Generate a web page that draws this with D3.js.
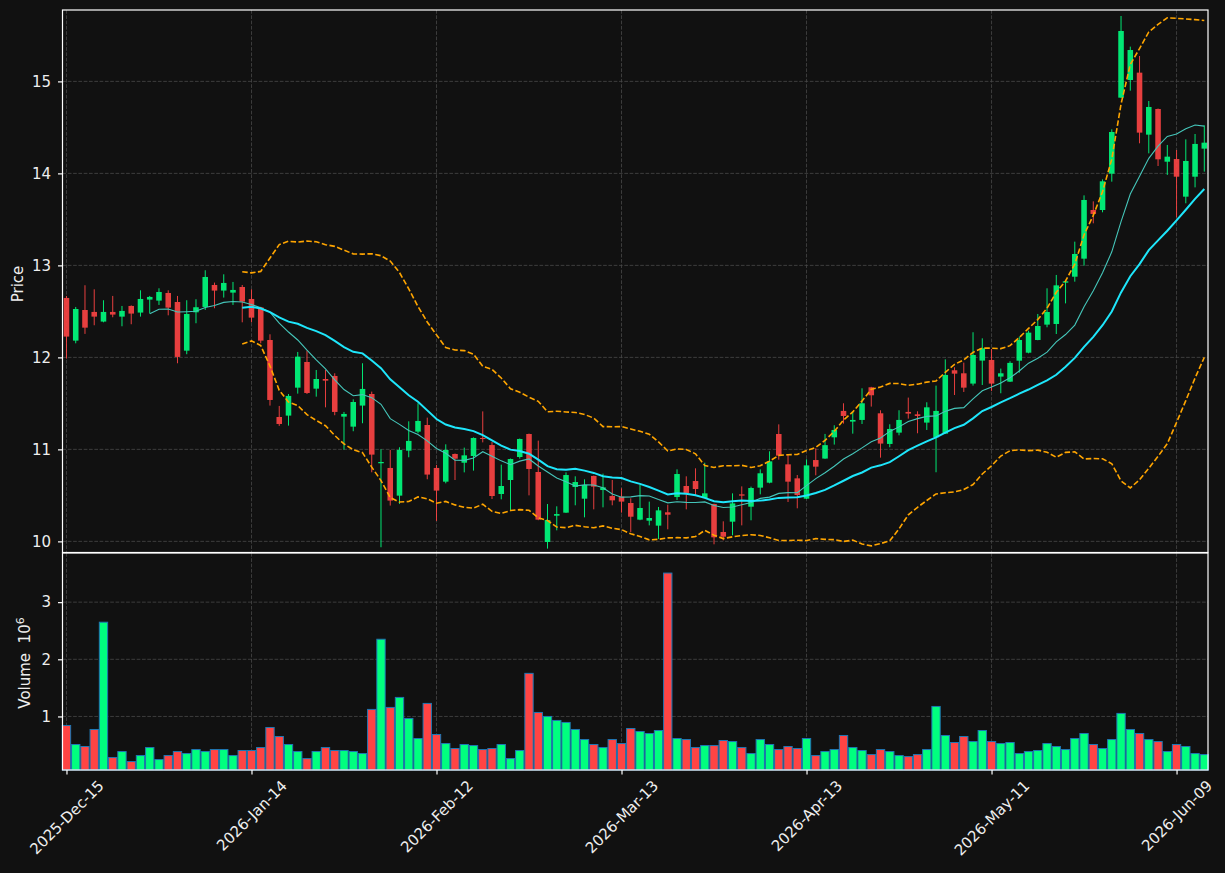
<!DOCTYPE html>
<html><head><meta charset="utf-8">
<script src="https://cdn.jsdelivr.net/npm/d3@7"></script>
<style>
body{margin:0;background:#111111;}
svg{display:block;font-family:"DejaVu Sans",sans-serif;}
</style></head><body>
<svg id="chart" width="1225" height="873"></svg>
<script>
const opens = [12.646,12.182,12.515,12.494,12.389,12.494,12.443,12.559,12.487,12.628,
12.617,12.700,12.602,12.073,12.490,12.548,12.787,12.726,12.704,12.765,
12.635,12.544,12.189,11.352,11.367,11.671,11.950,11.660,11.765,11.798,
11.356,11.247,11.476,11.602,10.849,10.798,10.497,10.986,11.193,11.265,
10.798,10.649,10.950,10.855,10.928,11.124,11.047,10.515,10.667,10.917,
11.167,10.754,9.993,10.279,10.312,10.591,10.464,10.711,10.558,10.493,
10.486,10.417,10.236,10.225,10.171,10.316,10.482,10.602,10.656,10.471,
10.406,10.102,10.214,10.511,10.377,10.584,10.638,11.167,10.837,10.685,
10.464,10.884,10.900,11.131,11.418,11.302,11.320,11.675,11.392,11.059,
11.182,11.407,11.381,11.291,11.131,11.171,11.860,11.827,11.715,11.965,
11.972,11.791,11.736,11.964,12.051,12.189,12.356,12.363,12.812,12.877,
13.073,13.602,13.602,13.997,14.823,15.015,15.095,14.421,14.700,14.127,
14.156,13.747,13.964,14.269];
const highs = [12.668,12.548,12.784,12.740,12.621,12.668,12.559,12.565,12.729,12.668,
12.751,12.729,12.668,12.621,12.632,12.947,12.813,12.903,12.820,12.787,
12.740,12.550,12.251,11.472,11.602,12.059,12.073,11.863,11.863,11.827,
11.407,11.544,11.936,11.628,11.001,10.994,11.023,11.305,11.501,11.345,
10.831,11.055,10.955,11.019,11.130,11.413,11.080,10.834,10.900,11.118,
11.172,11.095,10.406,10.381,10.750,10.707,10.674,10.715,10.736,10.667,
10.577,10.468,10.616,10.432,10.374,10.399,10.783,10.707,10.794,10.855,
10.410,10.218,10.522,10.598,10.595,10.783,10.979,11.272,10.942,10.721,
10.892,11.011,11.168,11.262,11.501,11.410,11.664,11.680,11.425,11.273,
11.425,11.563,11.414,11.512,11.693,11.979,11.892,11.943,12.273,12.207,
12.091,11.878,11.958,12.225,12.290,12.472,12.751,12.896,12.830,13.258,
13.761,13.696,13.935,14.479,15.711,15.378,15.276,14.787,14.705,14.309,
14.254,14.370,14.428,14.522];
const lows = [11.987,12.153,12.255,12.349,12.381,12.436,12.338,12.360,12.443,12.479,
12.570,12.457,11.936,12.034,12.371,12.516,12.534,12.650,12.570,12.381,
12.381,12.153,11.476,11.255,11.258,11.606,11.602,11.573,11.457,11.371,
10.997,11.197,11.284,10.751,9.936,10.389,10.407,10.914,11.175,10.675,
10.222,10.631,10.667,10.750,10.769,11.076,10.460,10.457,10.330,10.899,
10.500,10.230,9.921,10.120,10.310,10.392,10.261,10.348,10.370,10.392,
10.312,10.102,10.230,10.174,10.026,10.131,10.450,10.348,10.504,10.468,
9.968,10.011,10.066,10.174,10.229,10.511,10.631,10.888,10.428,10.359,
10.460,10.718,10.897,11.052,11.280,11.171,11.276,11.465,10.910,11.023,
11.153,11.334,11.175,11.211,10.751,11.168,11.591,11.624,11.693,11.700,
11.635,11.610,11.733,11.834,12.044,12.186,12.327,12.254,12.587,12.823,
12.997,13.457,13.577,13.910,14.820,14.899,14.327,14.218,14.080,13.983,
13.522,13.675,13.848,14.019];
const closes = [12.226,12.526,12.323,12.443,12.494,12.465,12.505,12.476,12.635,12.657,
12.711,12.541,12.005,12.472,12.545,12.874,12.726,12.809,12.733,12.606,
12.432,12.182,11.537,11.276,11.581,12.008,11.613,11.765,11.747,11.407,
11.385,11.515,11.657,10.943,10.863,10.443,10.994,11.092,11.309,10.726,
10.552,10.994,10.899,10.935,11.124,11.116,10.493,10.602,10.895,11.113,
10.787,10.236,10.232,10.297,10.721,10.645,10.613,10.595,10.587,10.446,
10.432,10.268,10.363,10.254,10.337,10.290,10.732,10.526,10.569,10.522,
10.044,10.051,10.413,10.497,10.580,10.740,10.870,10.932,10.649,10.504,
10.826,10.812,11.046,11.211,11.363,11.320,11.501,11.588,11.063,11.222,
11.320,11.389,11.363,11.457,11.418,11.809,11.823,11.671,12.026,12.099,
11.715,11.827,11.940,12.189,12.269,12.341,12.493,12.783,12.827,13.124,
13.711,13.559,13.914,14.450,15.548,15.341,14.443,14.722,14.153,14.182,
13.964,14.135,14.320,14.334];
const volumes = [0.842,0.509,0.474,0.772,2.649,0.281,0.386,0.211,0.316,0.456,
0.246,0.316,0.386,0.351,0.421,0.386,0.421,0.421,0.316,0.404,
0.404,0.456,0.807,0.649,0.509,0.386,0.263,0.386,0.456,0.404,
0.404,0.386,0.351,1.123,2.351,1.158,1.333,0.965,0.614,1.228,
0.684,0.526,0.439,0.509,0.491,0.421,0.439,0.509,0.263,0.404,
1.754,1.070,1.000,0.930,0.895,0.772,0.596,0.509,0.456,0.596,
0.526,0.789,0.737,0.702,0.754,3.509,0.614,0.596,0.456,0.491,
0.491,0.579,0.561,0.456,0.351,0.596,0.509,0.421,0.474,0.439,
0.614,0.316,0.386,0.421,0.667,0.456,0.404,0.333,0.421,0.386,
0.316,0.298,0.333,0.421,1.175,0.667,0.544,0.649,0.561,0.754,
0.561,0.526,0.544,0.351,0.386,0.404,0.526,0.474,0.421,0.614,
0.702,0.509,0.439,0.596,1.053,0.772,0.702,0.596,0.561,0.386,
0.509,0.474,0.351,0.333];
const tickIndex = [0,20,40,60,80,100,120];
const tickLabels = ["2025-Dec-15","2026-Jan-14","2026-Feb-12","2026-Mar-13","2026-Apr-13","2026-May-11","2026-Jun-09"];
const priceTicks = [10,11,12,13,14,15];
const volumeTicks = [1,2,3];
const maShortWindow = 10, maLongWindow = 20, bandWindow = 20, bandK = 2;

const W = 1225, H = 873;
const L = 62.5, R = 1208;
const pTop = 10, pBot = 552.5, vTop = 553, vBot = 770;
const FS = "15px";
const bg = "#111111";
const upC = "#00ff7f", dnC = "#ff4444";
const svg = d3.select("#chart");
svg.append("rect").attr("width",W).attr("height",H).attr("fill",bg);

const x = d3.scaleLinear().domain([-0.43, 123.4]).range([L, R]);
const y = d3.scaleLinear().domain([9.879, 15.776]).range([pBot, pTop]);
const yv = d3.scaleLinear().domain([0.063, 3.86]).range([vBot, vTop]);
const unit = x(1) - x(0);
const idx = d3.range(closes.length);

function rolling(n, fn){
  const out = [];
  for(let i=n-1;i<closes.length;i++){ out.push({i, v: fn(closes.slice(i-n+1,i+1))}); }
  return out;
}
const popStd = a => { const m = d3.mean(a); return Math.sqrt(d3.mean(a, v => (v-m)*(v-m))); };
const maS = rolling(maShortWindow, a => d3.mean(a));
const maL = rolling(maLongWindow, a => d3.mean(a));
const bandU = rolling(bandWindow, a => d3.mean(a) + bandK*popStd(a));
const bandD = rolling(bandWindow, a => d3.mean(a) - bandK*popStd(a));

// grids
const grid = svg.append("g").attr("stroke","#474747").attr("stroke-width",0.8).attr("stroke-dasharray","3.7,1.6");
priceTicks.forEach(t => grid.append("line").attr("x1",L).attr("x2",R).attr("y1",y(t)).attr("y2",y(t)));
volumeTicks.forEach(t => grid.append("line").attr("x1",L).attr("x2",R).attr("y1",yv(t)).attr("y2",yv(t)));
tickIndex.forEach(t => {
  grid.append("line").attr("x1",x(t)).attr("x2",x(t)).attr("y1",pTop).attr("y2",pBot);
  grid.append("line").attr("x1",x(t)).attr("x2",x(t)).attr("y1",vTop).attr("y2",vBot);
});

// candles
const cg = svg.append("g").attr("opacity",0.9);
idx.forEach(i => {
  const up = closes[i] >= opens[i];
  const col = up ? upC : dnC;
  const cx = x(i);
  cg.append("line").attr("x1",cx).attr("x2",cx).attr("y1",y(highs[i])).attr("y2",y(lows[i]))
    .attr("stroke",col).attr("stroke-width",1);
  const top = y(Math.max(opens[i],closes[i])), bot = y(Math.min(opens[i],closes[i]));
  cg.append("rect").attr("x",cx-0.3*unit).attr("width",0.6*unit)
    .attr("y",top).attr("height",Math.max(1,bot-top)).attr("fill",col);
});

// lines
svg.append("clipPath").attr("id","cp").append("rect").attr("x",L).attr("y",pTop).attr("width",R-L).attr("height",pBot-pTop);
const lineGen = d3.line().x(d => x(d.i)).y(d => y(d.v));
const lg = svg.append("g").attr("clip-path","url(#cp)").attr("fill","none");
lg.append("path").attr("d",lineGen(bandU)).attr("stroke","#ffa500").attr("stroke-width",1.6).attr("stroke-dasharray","5.5,2.4");
lg.append("path").attr("d",lineGen(bandD)).attr("stroke","#ffa500").attr("stroke-width",1.6).attr("stroke-dasharray","5.5,2.4");
lg.append("path").attr("d",lineGen(maS)).attr("stroke","#45c6ba").attr("stroke-width",1.1);
lg.append("path").attr("d",lineGen(maL)).attr("stroke","#1ee6fb").attr("stroke-width",2);

// volume bars
const vg = svg.append("g");
idx.forEach(i => {
  const up = closes[i] >= opens[i];
  vg.append("rect").attr("x",x(i)-0.45*unit).attr("width",0.9*unit)
    .attr("y",yv(volumes[i])).attr("height",vBot-yv(volumes[i]))
    .attr("fill",up?upC:dnC).attr("stroke","#1f77b4").attr("stroke-width",1);
});

// frames
const fr = svg.append("g").attr("fill","none").attr("stroke","#ffffff").attr("stroke-width",1.2);
fr.append("rect").attr("x",L).attr("y",pTop).attr("width",R-L).attr("height",pBot-pTop);
fr.append("rect").attr("x",L).attr("y",vTop).attr("width",R-L).attr("height",vBot-vTop);

function styleAxis(g){
  g.select(".domain").remove();
  g.selectAll(".tick line").attr("stroke","#ffffff").attr("stroke-width",1.2);
  g.selectAll(".tick text").attr("fill","#eeeeee").style("font-size",FS).style("font-family","DejaVu Sans, sans-serif");
}
const ay = svg.append("g").attr("transform",`translate(${L},0)`)
  .call(d3.axisLeft(y).tickValues(priceTicks).tickFormat(d3.format("d")).tickSize(4.5).tickPadding(7));
styleAxis(ay);
const avy = svg.append("g").attr("transform",`translate(${L},0)`)
  .call(d3.axisLeft(yv).tickValues(volumeTicks).tickFormat(d3.format("d")).tickSize(4.5).tickPadding(7));
styleAxis(avy);
const ax = svg.append("g").attr("transform",`translate(0,${vBot})`)
  .call(d3.axisBottom(x).tickValues(tickIndex).tickFormat((d,k) => tickLabels[k]).tickSize(4.5).tickPadding(0));
styleAxis(ax);
ax.selectAll(".tick text").each(function(){
  const t = d3.select(this);
  const len = this.getComputedTextLength();
  const cy = 7.5 + (len + 16) * Math.SQRT1_2 / 2;
  t.attr("y",null).attr("dy",null).attr("text-anchor","middle").attr("dominant-baseline","central")
   .attr("transform",`translate(0,${cy}) rotate(-45)`);
});

// axis labels
svg.append("text").attr("transform","translate(18,284) rotate(-90)").attr("text-anchor","middle")
  .attr("dominant-baseline","central").attr("fill","#eeeeee").style("font-size",FS).text("Price");
const vl = svg.append("text").attr("transform","translate(25,663) rotate(-90)").attr("text-anchor","middle")
  .attr("dominant-baseline","central").attr("fill","#eeeeee").style("font-size",FS).style("white-space","pre");
vl.append("tspan").text("Volume  10");
vl.append("tspan").attr("dy","-0.45em").style("font-size","11px").text("6");
</script>
</body></html>
